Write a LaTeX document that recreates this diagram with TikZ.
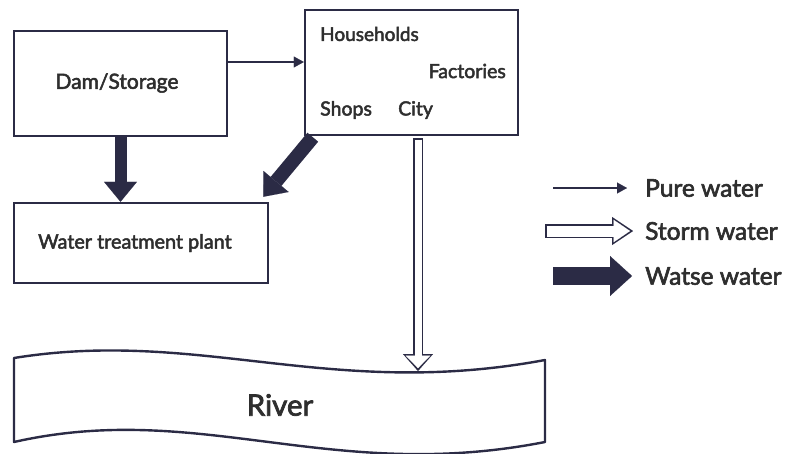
\documentclass[tikz,border=0pt]{standalone}
\usepackage{fontspec}
\newfontfamily\midfont{Lato}[FakeBold=2.5]
\usetikzlibrary{arrows.meta,calc}
\definecolor{navy}{HTML}{2B2B45}
\definecolor{ink}{HTML}{2E2E2E}
\tikzset{
  box/.style={draw=navy, line width=2.4pt, rectangle, inner sep=0pt},
  lbl/.style={text=ink, inner sep=0pt},
  pure/.style={draw=navy, line width=2pt, -{Triangle[width=11pt,length=10pt,line width=0.1pt]}},
  waste/.style={draw=navy, line width=#1, -{Triangle[width=33pt,length=20pt,line width=0.1pt]}},
  stormout/.style={draw=navy, line width=10pt, -{Triangle[width=30pt,length=17pt,line width=0.1pt]}},
  stormin/.style={draw=white, line width=7pt, shorten >=2.9pt, shorten <=1.5pt, -{Triangle[width=24.6pt,length=12.6pt,line width=0.1pt]}}
}
\begin{document}
\begin{tikzpicture}[x=1pt,y=-1pt]
			%%%%% START %%%%%
			\useasboundingbox (0,0) rectangle (788,453);
			
			\node[box, minimum width=213pt, minimum height=105pt] (dam) at (120.5, 83.5) {};
			\node[lbl, font=\midfont\fontsize{21}{25}\selectfont] (damtext) at (117, 83) {Dam/Storage};
			
			\node[box, minimum width=213pt, minimum height=125pt] (city) at (411.5, 72.5) {};
			\node[lbl, anchor=west, font=\midfont\fontsize{19}{22}\selectfont] (households) at (320, 34) {Households};
			\node[lbl, anchor=east, font=\midfont\fontsize{19.5}{23}\selectfont] (factories) at (506, 71) {Factories};
			\node[lbl, anchor=west, font=\midfont\fontsize{19.5}{23}\selectfont] (shops) at (320, 110) {Shops};
			\node[lbl, anchor=west, font=\midfont\fontsize{19.5}{23}\selectfont] (citytext) at (398, 110) {City};
			
			\node[box, minimum width=254pt, minimum height=80pt] (wtp) at (141, 243) {};
			\node[lbl, anchor=west, font=\midfont\fontsize{19.8}{23}\selectfont] (wtptext) at (38, 243) {Water treatment plant};
			
			% river
			\draw[draw=navy, line width=2.4pt, line join=round] (14, 358) .. controls (200, 328) and (330, 400) .. (545, 360)
			  -- (545, 442) .. controls (330, 484) and (200, 400) .. (14, 442) -- cycle;
			\coordinate (rivertop) at (418, 371);
			\node[lbl, font=\midfont\fontsize{29.5}{34}\selectfont] (river) at (280, 405) {River};
			
			% flows
			\draw[pure] ([yshift=21.5pt]dam.east) -- ([yshift=21.5pt]dam.east -| city.west);
			\draw[waste=12pt] (dam.south) -- (dam.south |- wtp.north);
			\draw[waste=14pt] ([xshift=9pt,yshift=-1pt]city.south west) -- ([xshift=-6pt,yshift=5pt]wtp.north east);
			\draw[stormout] ([xshift=6.5pt,yshift=-2pt]city.south) -- (rivertop);
			\draw[stormin] ([xshift=6.5pt,yshift=-2pt]city.south) -- (rivertop);
			
			% legend
			\node[lbl, anchor=west, font=\midfont\fontsize{24.5}{29}\selectfont] (lpure) at (645, 188) {Pure water};
			\node[lbl, anchor=west, font=\midfont\fontsize{24.5}{29}\selectfont] (lstorm) at (645, 231) {Storm water};
			\node[lbl, anchor=west, font=\midfont\fontsize{24.5}{29}\selectfont] (lwaste) at (645, 276) {Watse water};
			\coordinate (lp) at (553, 188);
			\coordinate (ls) at (545, 231);
			\coordinate (lw) at (553, 276);
			\draw[pure] (lp) -- ([xshift=-18pt]lpure.west);
			\draw[stormout, line width=14pt, -{Triangle[width=28pt,length=21pt,line width=0.1pt]}] (ls) -- ([xshift=-12pt]lstorm.west);
			\draw[stormin, line width=11pt, shorten >=3pt, -{Triangle[width=22.5pt,length=16.5pt,line width=0.1pt]}] (ls) -- ([xshift=-12pt]lstorm.west);
			\draw[waste=18pt, -{Triangle[width=40pt,length=22pt,line width=0.1pt]}] (lw) -- ([xshift=-13pt]lwaste.west);
			%%%%% END %%%%%
\end{tikzpicture}
\end{document}
